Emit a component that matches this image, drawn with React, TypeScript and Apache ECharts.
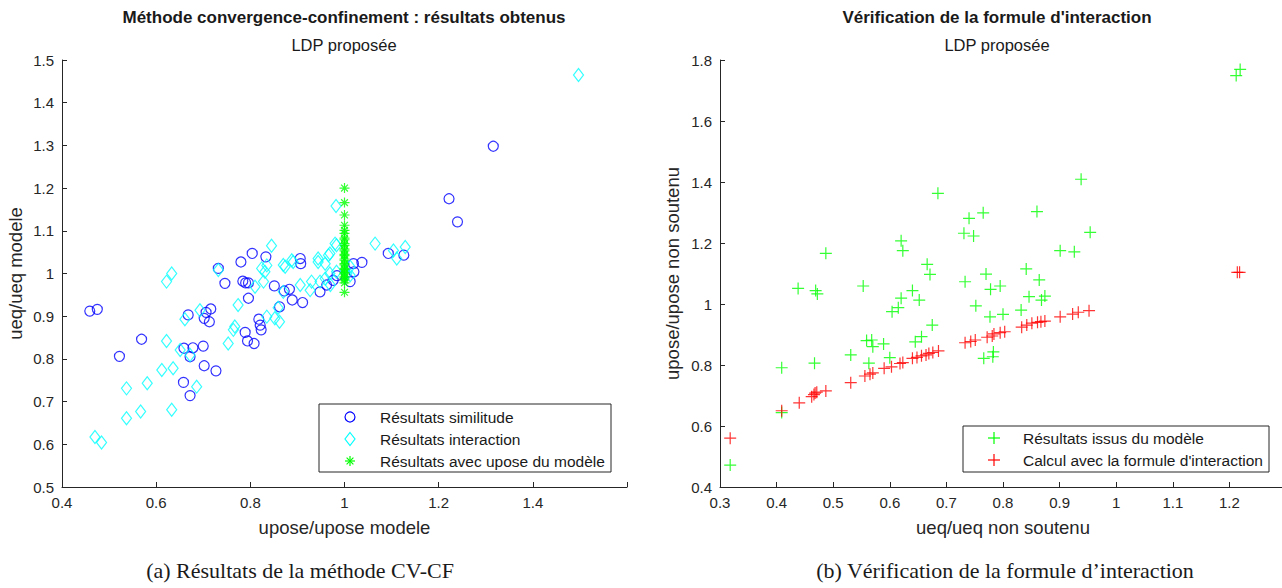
import React, { useEffect, useRef } from "react";
import * as echarts from "echarts";

const FONT = "'Liberation Sans', Arial, sans-serif";
const SERIF = "'Liberation Serif', 'DejaVu Serif', serif";
const AX = "#262626";

// ---- Left chart data: upose/upose modele (x) vs ueq/ueq modele (y)
const similitude: number[][] = [
  [0.459, 0.912], [0.475, 0.916], [0.522, 0.806], [0.569, 0.846], [0.668, 0.903],
  [0.702, 0.895], [0.706, 0.909], [0.716, 0.917], [0.713, 0.887], [0.659, 0.825],
  [0.678, 0.826], [0.700, 0.830], [0.672, 0.805], [0.702, 0.784], [0.658, 0.745],
  [0.672, 0.714], [0.727, 0.772], [0.732, 1.012], [0.746, 0.977], [0.780, 1.027],
  [0.804, 1.047], [0.833, 1.039], [0.784, 0.982], [0.790, 0.978], [0.796, 0.978],
  [0.796, 0.942], [0.851, 0.971], [0.789, 0.862], [0.794, 0.842], [0.808, 0.836],
  [0.818, 0.893], [0.821, 0.879], [0.823, 0.868], [0.862, 0.922], [0.872, 0.959],
  [0.883, 0.963], [0.889, 0.938], [0.911, 0.932], [0.906, 1.035], [0.907, 1.023],
  [0.948, 0.957], [0.962, 0.973], [0.976, 0.984], [1.012, 0.981], [1.020, 1.004],
  [1.037, 1.026], [1.019, 1.023], [1.093, 1.047], [1.126, 1.043], [1.222, 1.175],
  [1.240, 1.121], [1.316, 1.298], [0.984, 0.995],
];
const interaction: number[][] = [
  [0.470, 0.617], [0.484, 0.604], [0.537, 0.661], [0.567, 0.677], [0.633, 0.681],
  [0.537, 0.731], [0.581, 0.743], [0.612, 0.774], [0.636, 0.778], [0.686, 0.735],
  [0.622, 0.842], [0.651, 0.821], [0.672, 0.809], [0.661, 0.893], [0.693, 0.914],
  [0.622, 0.981], [0.633, 1.000], [0.732, 1.008], [0.753, 0.836], [0.764, 0.868],
  [0.767, 0.876], [0.774, 0.926], [0.810, 0.969], [0.828, 0.981], [0.831, 1.004],
  [0.835, 1.019], [0.835, 0.899], [0.852, 0.895], [0.862, 0.887], [0.859, 0.920],
  [0.870, 0.957], [0.874, 1.016], [0.891, 1.027], [0.906, 0.973], [0.927, 0.961],
  [0.930, 0.981], [0.944, 1.027], [0.959, 1.023], [0.948, 0.981], [0.959, 0.988],
  [0.969, 1.000], [0.983, 1.004], [1.005, 1.000], [1.012, 1.016], [0.845, 1.065],
  [0.824, 1.012], [0.870, 1.020], [0.888, 1.031], [0.944, 1.035], [0.966, 1.043],
  [0.983, 1.066], [0.982, 1.158], [1.065, 1.070], [1.497, 1.465], [0.980, 1.070],
  [1.104, 1.054], [1.129, 1.062], [1.111, 1.035], [0.969, 1.047], [1.012, 0.996],
  [0.970, 0.973],
];
const modeleX = 1.0;
const modeleY: number[] = [
  1.200, 1.166, 1.137, 1.113, 1.101, 1.094, 1.083, 1.079, 1.070, 1.066,
  1.057, 1.053, 1.045, 1.042, 1.034, 1.031, 1.023, 1.020, 1.012, 1.009,
  1.002, 0.999, 0.992, 0.989, 0.985, 0.978, 0.956,
];

// ---- Right chart data: ueq/ueq non soutenu (x) vs upose/upose non soutenu (y)
const issusModele: number[][] = [
  [0.685, 1.363], [0.740, 1.281], [0.765, 1.299], [0.731, 1.232], [0.748, 1.223],
  [0.620, 1.207], [0.623, 1.175], [0.487, 1.166], [0.666, 1.130], [0.671, 1.097],
  [0.438, 1.051], [0.469, 1.044], [0.472, 1.033], [0.553, 1.059], [0.640, 1.044],
  [0.620, 1.019], [0.652, 1.013], [0.604, 0.975], [0.615, 0.988], [0.675, 0.931],
  [0.733, 1.073], [0.770, 1.098], [0.778, 1.048], [0.795, 1.059], [0.752, 0.994],
  [0.777, 0.958], [0.800, 0.966], [0.559, 0.880], [0.568, 0.882], [0.570, 0.860],
  [0.589, 0.869], [0.645, 0.876], [0.656, 0.893], [0.531, 0.833], [0.600, 0.824],
  [0.563, 0.806], [0.467, 0.806], [0.409, 0.791], [0.409, 0.644], [0.766, 0.822],
  [0.782, 0.827], [0.783, 0.843], [0.318, 0.472], [1.219, 1.769], [1.212, 1.749],
  [0.938, 1.409], [0.860, 1.303], [0.954, 1.235], [0.901, 1.175], [0.926, 1.171],
  [0.841, 1.115], [0.864, 1.079], [0.846, 1.024], [0.874, 1.026], [0.868, 1.013],
  [0.832, 0.980],
];
const formule: number[][] = [
  [0.318, 0.560], [0.409, 0.650], [0.440, 0.676], [0.462, 0.696], [0.466, 0.703],
  [0.468, 0.708], [0.471, 0.711], [0.487, 0.715], [0.531, 0.742], [0.556, 0.764],
  [0.565, 0.770], [0.570, 0.774], [0.590, 0.789], [0.603, 0.794], [0.618, 0.805],
  [0.623, 0.808], [0.640, 0.822], [0.648, 0.825], [0.656, 0.830], [0.664, 0.833],
  [0.669, 0.838], [0.676, 0.841], [0.686, 0.846], [0.733, 0.873], [0.743, 0.877],
  [0.751, 0.882], [0.772, 0.891], [0.781, 0.895], [0.784, 0.902], [0.795, 0.906],
  [0.803, 0.909], [0.833, 0.924], [0.842, 0.931], [0.851, 0.937], [0.861, 0.940],
  [0.867, 0.942], [0.874, 0.944], [0.901, 0.958], [0.923, 0.967], [0.933, 0.973],
  [0.952, 0.978], [1.214, 1.104], [1.218, 1.104],
];

const legendLeft = ["Résultats similitude", "Résultats interaction", "Résultats avec upose du modèle"];
const legendRight = ["Résultats issus du modèle", "Calcul avec la formule d'interaction"];

const ASTERISK = "path://M5,0L5,10M0,5L10,5M1.6,1.6L8.4,8.4M1.6,8.4L8.4,1.6";
const PLUS = "path://M5,0L5,10M0,5L10,5";

const TICK_FS = 15;
const NAME_FS = 18.5;

function fmt(v: number) {
  return String(Math.round(v * 10) / 10);
}

function axisBase(extra: any, hideAbove = 99) {
  return {
    type: "value",
    nameLocation: "middle",
    nameTextStyle: { color: AX, fontSize: NAME_FS, fontFamily: FONT },
    axisLine: { show: true, onZero: false, lineStyle: { color: AX, width: 1 } },
    axisTick: { show: true, inside: true, length: 5, lineStyle: { color: AX } },
    axisLabel: {
      color: AX, fontSize: TICK_FS, fontFamily: FONT, margin: 8,
      formatter: (v: number) => (v > hideAbove ? "" : fmt(v)),
    },
    splitLine: { show: false },
    ...extra,
  };
}

function txt(x: number, y: number, text: string, font: string, align = "center") {
  return {
    type: "text",
    x,
    y,
    z: 100,
    style: {
      text,
      font,
      fill: "#1a1a1a",
      align,
      verticalAlign: "middle",
      textAlign: align,
      textVerticalAlign: "middle",
    },
  };
}
function ln(x1: number, y1: number, x2: number, y2: number, color: string) {
  return { type: "line", z: 101, shape: { x1, y1, x2, y2 }, style: { stroke: color, lineWidth: 1.2 } };
}

export default function App() {
  const ref = useRef<HTMLDivElement>(null);
  useEffect(() => {
    if (!ref.current) return;
    const chart = echarts.init(ref.current, undefined, { renderer: "svg" });
    const legFont = `15.5px ${FONT}`;
    const option: any = {
      animation: false,
      backgroundColor: "#ffffff",
      grid: [
        { left: 62, top: 60, width: 565, height: 427, outerBoundsMode: "none", containLabel: false },
        { left: 720, top: 60, width: 566, height: 427, outerBoundsMode: "none", containLabel: false },
      ],
      xAxis: [
        axisBase({ gridIndex: 0, min: 0.4, max: 1.6, interval: 0.2, name: "upose/upose modele", nameGap: 31 }, 1.55),
        axisBase({ gridIndex: 1, min: 0.3, max: 1.3, interval: 0.1, name: "ueq/ueq non soutenu", nameGap: 31 }, 1.25),
      ],
      yAxis: [
        axisBase({ gridIndex: 0, min: 0.5, max: 1.5, interval: 0.1, name: "ueq/ueq modele", nameGap: 37 }),
        axisBase({ gridIndex: 1, min: 0.4, max: 1.8, interval: 0.2, name: "upose/upose non soutenu", nameGap: 38 }),
      ],
      series: [
        {
          name: legendLeft[0], type: "scatter", xAxisIndex: 0, yAxisIndex: 0,
          data: similitude, symbol: "circle", symbolSize: 10,
          itemStyle: { color: "transparent", borderColor: "#0000ff", borderWidth: 1.2 },
        },
        {
          name: legendLeft[1], type: "scatter", xAxisIndex: 0, yAxisIndex: 0,
          data: interaction, symbol: "diamond", symbolSize: [10, 13],
          itemStyle: { color: "transparent", borderColor: "#00ffff", borderWidth: 1.2 },
        },
        {
          name: legendLeft[2], type: "scatter", xAxisIndex: 0, yAxisIndex: 0,
          data: modeleY.map((y) => [modeleX, y]), symbol: ASTERISK, symbolSize: 10,
          itemStyle: { color: "transparent", borderColor: "#00ff00", borderWidth: 1.2 },
        },
        {
          name: legendRight[0], type: "scatter", xAxisIndex: 1, yAxisIndex: 1,
          data: issusModele, symbol: PLUS, symbolSize: 12,
          itemStyle: { color: "transparent", borderColor: "#00ff00", borderWidth: 1.2 },
        },
        {
          name: legendRight[1], type: "scatter", xAxisIndex: 1, yAxisIndex: 1,
          data: formule, symbol: PLUS, symbolSize: 12,
          itemStyle: { color: "transparent", borderColor: "#ff0000", borderWidth: 1.2 },
        },
      ],
      graphic: [
        txt(344, 17, "Méthode convergence-confinement : résultats obtenus", `bold 17px ${FONT}`),
        txt(344, 45, "LDP proposée", `16.5px ${FONT}`),
        txt(997, 17, "Vérification de la formule d'interaction", `bold 17px ${FONT}`),
        txt(997, 45, "LDP proposée", `16.5px ${FONT}`),
        txt(300, 570, "(a) Résultats de la méthode CV-CF", `22px ${SERIF}`),
        txt(1005, 570, "(b) Vérification de la formule d’interaction", `22px ${SERIF}`),
        // left legend
        { type: "rect", z: 99, shape: { x: 319, y: 404, width: 292, height: 68 },
          style: { fill: "#ffffff", stroke: AX, lineWidth: 1 } },
        { type: "circle", z: 101, shape: { cx: 350, cy: 417, r: 5 },
          style: { fill: "none", stroke: "#0000ff", lineWidth: 1.2 } },
        { type: "polygon", z: 101, shape: { points: [[350, 432.5], [355, 439], [350, 445.5], [345, 439]] },
          style: { fill: "none", stroke: "#00ffff", lineWidth: 1.2 } },
        ln(350, 456, 350, 466, "#00ff00"),
        ln(345, 461, 355, 461, "#00ff00"),
        ln(346.6, 457.6, 353.4, 464.4, "#00ff00"),
        ln(346.6, 464.4, 353.4, 457.6, "#00ff00"),
        txt(380, 417, legendLeft[0], legFont, "left"),
        txt(380, 439, legendLeft[1], legFont, "left"),
        txt(380, 461, legendLeft[2], legFont, "left"),
        // right legend
        { type: "rect", z: 99, shape: { x: 963, y: 426, width: 306, height: 46 },
          style: { fill: "#ffffff", stroke: AX, lineWidth: 1 } },
        ln(994, 432, 994, 444, "#00ff00"),
        ln(988, 438, 1000, 438, "#00ff00"),
        ln(994, 454, 994, 466, "#ff0000"),
        ln(988, 460, 1000, 460, "#ff0000"),
        txt(1023, 438, legendRight[0], legFont, "left"),
        txt(1023, 460, legendRight[1], legFont, "left"),
      ],
    };
    chart.setOption(option);
    return () => chart.dispose();
  }, []);
  return (
    <div
      ref={ref}
      style={{ position: "fixed", left: 0, top: 0, width: 1282, height: 588, background: "#fff" }}
    />
  );
}
